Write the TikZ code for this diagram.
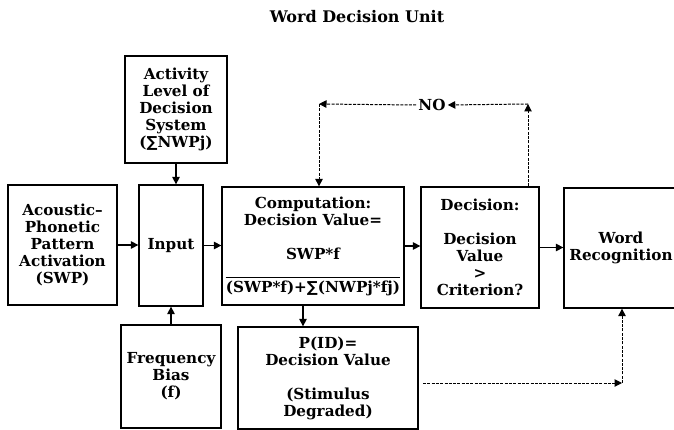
\documentclass[tikz,border=0pt]{standalone}
\usepackage{fontspec}
\setmainfont{DejaVu Serif}
\newfontfamily\symf{DejaVu Sans}
\usetikzlibrary{arrows.meta}
\begin{document}
\begin{tikzpicture}[x=1pt,y=-1pt,
  every node/.style={font=\fontsize{15.2}{17}\selectfont\bfseries},
  box/.style={draw,line width=1.3pt,align=center,inner sep=0pt},
  txt/.style={align=center,inner sep=0pt},
  arr/.style={line width=1.3pt,-{Triangle[length=7.5pt,width=7.5pt]}},
  dsh/.style={line width=1pt,dash pattern=on 3pt off 1.3pt,-{Triangle[length=7.5pt,width=7.5pt]}}]
\useasboundingbox (0,0) rectangle (674,430);

\node[font=\fontsize{16}{17}\selectfont\bfseries] (title) at (357,17) {Word Decision Unit};

\node[box,minimum width=102pt,minimum height=107pt] (activity) at (176,109.5)
  {Activity\\Level of\\Decision\\System\\({\symf ∑}NWPj)};
\node[box,minimum width=109pt,minimum height=120pt] (acoustic) at (62.5,245)
  {Acoustic–\\Phonetic\\Pattern\\Activation\\(SWP)};
\node[box,minimum width=64pt,minimum height=121pt] (input) at (171,245.5) {Input};
\node[box,minimum width=182pt,minimum height=118pt] (comp) at (313,246) {};
\node[txt] (comptitle) at (313,211.5) {Computation:\\Decision Value=};
\node[txt] (numer) at (313,254) {SWP*f};
\node[txt] (denom) at (313,288) {(SWP*f)+{\symf ∑}(NWPj*fj)};
\draw[line width=1.2pt] ([yshift=2.5pt]denom.north west) -- ([yshift=2.5pt]denom.north east);
\node[box,minimum width=118pt,minimum height=121pt] (decision) at (480,247.5)
  {Decision:\\[17pt]Decision\\Value\\>\\Criterion?};
\node[box,minimum width=114pt,minimum height=120pt] (word) at (621,248)
  {Word\\Recognition};
\node[box,minimum width=100pt,minimum height=103pt] (freq) at (171,376.5)
  {Frequency\\Bias\\(f)};
\node[box,minimum width=180pt,minimum height=102pt] (pid) at (328,378)
  {P(ID)=\\Decision Value\\[17pt](Stimulus\\Degraded)};

\node[inner sep=2pt] (no) at (432,105) {NO};
\coordinate (c1) at (528,104);
\coordinate (c2) at (319,104);
\coordinate (c3) at (622,383);
\coordinate (c4) at (423,383);
\coordinate (c5) at (303,300);

% solid arrows
\draw[arr] (activity.south) -- (activity.south |- input.north);
\draw[arr] (acoustic.east) -- (acoustic.east -| input.west);
\draw[arr] (input.east) -- (input.east -| comp.west);
\draw[arr] (comp.east) -- (comp.east -| decision.west);
\draw[arr] (decision.east) -- (decision.east -| word.west);
\draw[arr] (freq.north) -- (freq.north |- input.south);
\draw[arr] (c5 |- comp.south) -- (c5 |- pid.north);

% dashed feedback
\draw[dsh] (c1 |- decision.north) -- (c1);
\draw[dsh] (c1) -- (no.east);
\draw[dsh] (no.west) -- (c2);
\draw[dsh] (c2) -- (c2 |- comp.north);
\draw[dsh] (c4) -- (c3);
\draw[dsh] (c3) -- (c3 |- word.south);
\end{tikzpicture}
\end{document}
